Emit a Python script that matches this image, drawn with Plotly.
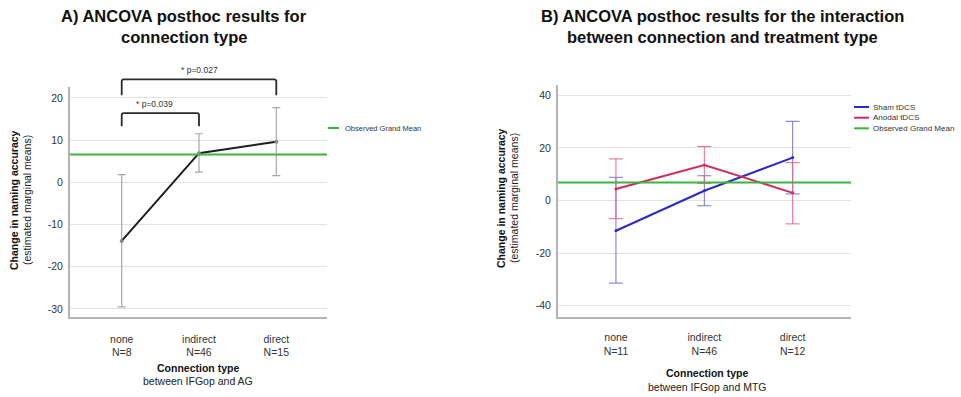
import plotly.graph_objects as go

# ---------------- data ----------------
# Panel A
cats_a = ["none", "indirect", "direct"]
n_a = [8, 46, 15]
mean_a = [-13.9, 6.9, 9.6]
upper_a = [1.8, 11.5, 17.7]
lower_a = [-29.5, 2.4, 1.6]
grand_mean_a = 6.6
yticks_a = [-30, -20, -10, 0, 10, 20]
# significance brackets: (from, to, label, bracket top, bracket end, text y, text x)
brackets_a = [
    ("none", "indirect", "* p=0.039", 16.4, 13.3, 18.6, 0.42),
    ("none", "direct", "* p=0.027", 24.4, 20.6, 26.6, 1.0),
]

# Panel B
cats_b = ["none", "indirect", "direct"]
n_b = [11, 46, 12]
sham_mean = [-11.5, 3.7, 16.3]
sham_upper = [8.8, 9.4, 30.1]
sham_lower = [-31.4, -2.0, 2.5]
anodal_mean = [4.4, 13.5, 2.9]
anodal_upper = [15.8, 20.5, 14.4]
anodal_lower = [-6.9, 6.5, -8.9]
grand_mean_b = 6.8
yticks_b = [-40, -20, 0, 20, 40]

FONT = "Liberation Sans, Arial, sans-serif"
W, H = 961, 397

# layout geometry (paper fractions)
xdom_a = [70 / W, 327 / W]
ydom_a = [80 / H, 310 / H]
xr_a = [-0.669, 2.656]
yr_a = [-31.92, 22.58]

xdom_b = [558 / W, 851 / W]
ydom_b = [80.3 / H, 312 / H]
xr_b = [-0.656, 2.66]
yr_b = [-44.18, 43.9]

GREEN = "#3cb43c"
BLUE = "#2a2ac8"
RED = "#d42a5c"

def px_x(i, dom, rng):
    return dom[0] + (i - rng[0]) / (rng[1] - rng[0]) * (dom[1] - dom[0])

def px_y(v, dom, rng):
    return dom[0] + (v - rng[0]) / (rng[1] - rng[0]) * (dom[1] - dom[0])

fig = go.Figure()

# Panel A line
fig.add_trace(go.Scatter(
    x=cats_a, y=mean_a, mode="lines+markers",
    line=dict(color="#1e1e1e", width=2),
    marker=dict(color="#888888", size=4),
    error_y=dict(type="data", symmetric=False,
                 array=[u - m for u, m in zip(upper_a, mean_a)],
                 arrayminus=[m - l for m, l in zip(mean_a, lower_a)],
                 color="#a8a8a8", thickness=1.2, width=4),
    xaxis="x", yaxis="y", showlegend=False,
))

# Panel B lines
fig.add_trace(go.Scatter(
    x=cats_b, y=sham_mean, mode="lines+markers", name="Sham tDCS",
    line=dict(color=BLUE, width=2),
    marker=dict(color=BLUE, size=3),
    error_y=dict(type="data", symmetric=False,
                 array=[u - m for u, m in zip(sham_upper, sham_mean)],
                 arrayminus=[m - l for m, l in zip(sham_mean, sham_lower)],
                 color="#7474d0", thickness=1, width=7),
    xaxis="x2", yaxis="y2", showlegend=False,
))
fig.add_trace(go.Scatter(
    x=cats_b, y=anodal_mean, mode="lines+markers", name="Anodal tDCS",
    line=dict(color=RED, width=2),
    marker=dict(color=RED, size=3),
    error_y=dict(type="data", symmetric=False,
                 array=[u - m for u, m in zip(anodal_upper, anodal_mean)],
                 arrayminus=[m - l for m, l in zip(anodal_mean, anodal_lower)],
                 color="#e06a8c", thickness=1, width=7),
    xaxis="x2", yaxis="y2", showlegend=False,
))

shapes = []
annotations = []

# grand mean lines
shapes.append(dict(type="line", xref="x domain", yref="y", x0=0, x1=1,
                   y0=grand_mean_a, y1=grand_mean_a,
                   line=dict(color=GREEN, width=2)))
shapes.append(dict(type="line", xref="x2 domain", yref="y2", x0=0, x1=1,
                   y0=grand_mean_b, y1=grand_mean_b,
                   line=dict(color=GREEN, width=2)))

# brackets
for c0, c1, label, top, end, ty, tx in brackets_a:
    x0 = px_x(cats_a.index(c0), xdom_a, xr_a)
    x1 = px_x(cats_a.index(c1), xdom_a, xr_a)
    yt = px_y(top, ydom_a, yr_a)
    ye = px_y(end, ydom_a, yr_a)
    r = 2 / H
    rx = 2 / W
    path = (f"M {x0},{ye} L {x0},{yt - r} Q {x0},{yt} {x0 + rx},{yt} "
            f"L {x1 - rx},{yt} Q {x1},{yt} {x1},{yt - r} L {x1},{ye}")
    shapes.append(dict(type="path", xref="paper", yref="paper", path=path,
                       line=dict(color="#2a2a2a", width=1.8)))
    annotations.append(dict(text=label, xref="paper", yref="paper",
                            x=px_x(tx, xdom_a, xr_a), y=px_y(ty, ydom_a, yr_a),
                            showarrow=False, xanchor="center", yanchor="middle",
                            font=dict(family=FONT, size=8.5, color="#333")))

# legends (custom)
def legend_item(x_line0, x_line1, x_text, y, color, text, size=8):
    shapes.append(dict(type="line", xref="paper", yref="paper",
                       x0=x_line0 / W, x1=x_line1 / W, y0=1 - y / H, y1=1 - y / H,
                       line=dict(color=color, width=2)))
    annotations.append(dict(text=text, xref="paper", yref="paper",
                            x=x_text / W, y=1 - y / H, showarrow=False,
                            xanchor="left", yanchor="middle",
                            font=dict(family=FONT, size=size, color="#333")))

legend_item(328, 339, 343, 128, GREEN, "Observed Grand Mean", 7.5)
legend_item(854, 869, 871, 107, BLUE, "Sham tDCS")
legend_item(854, 869, 871, 117.7, RED, "Anodal tDCS")
legend_item(854, 869, 871, 128.3, GREEN, "Observed Grand Mean")

def text(x, y, s, size, bold=False, angle=0, yanchor="middle"):
    annotations.append(dict(text=f"<b>{s}</b>" if bold else s, xref="paper", yref="paper",
                            x=x / W, y=1 - y / H, showarrow=False, borderpad=0,
                            xanchor="center", yanchor=yanchor, textangle=angle,
                            font=dict(family=FONT, size=size, color="#111" if bold else "#222")))

# titles
text(184, 26.5, "A) ANCOVA posthoc results for", 16.5, True, yanchor="bottom")
text(184, 26.5, "connection type", 16.5, True, yanchor="top")
text(722, 26.5, "B) ANCOVA posthoc results for the interaction", 16.5, True, yanchor="bottom")
text(722, 26.5, "between connection and treatment type", 16.5, True, yanchor="top")

# axis titles
text(14, 200, "Change in naming accuracy", 10.5, True, -90)
text(27, 200, "(estimated marginal means)", 10.5, False, -90)
text(198, 368, "Connection type", 10.5, True)
text(198, 381, "between IFGop and AG", 10.5, False)

text(501, 198, "Change in naming accuracy", 10.5, True, -90)
text(514, 198, "(estimated marginal means)", 10.5, False, -90)
text(707, 373, "Connection type", 10.5, True)
text(707, 387, "between IFGop and MTG", 10.5, False)

axis_common = dict(showline=True, linecolor="#b4b4b4", linewidth=2, zeroline=False,
                   tickfont=dict(family=FONT, size=10.5, color="#333"))

fig.update_layout(
    width=W, height=H, margin=dict(l=0, r=0, t=0, b=0),
    paper_bgcolor="white", plot_bgcolor="white",
    font=dict(family=FONT),
    xaxis=dict(domain=xdom_a, range=xr_a, type="category", categoryarray=cats_a,
               tickvals=cats_a, ticktext=[f"{c}<br>N={n}" for c, n in zip(cats_a, n_a)],
               showgrid=False, ticks="outside", ticklen=11, tickcolor="rgba(0,0,0,0)",
               anchor="y", **axis_common),
    yaxis=dict(domain=ydom_a, range=yr_a, tickvals=yticks_a,
               ticktext=[str(v) for v in yticks_a],
               showgrid=True, gridcolor="#e2e2e2",
               gridwidth=1, ticks="outside", ticklen=3, tickcolor="rgba(0,0,0,0)",
               anchor="x", **axis_common),
    xaxis2=dict(domain=xdom_b, range=xr_b, type="category", categoryarray=cats_b,
                tickvals=cats_b, ticktext=[f"{c}<br>N={n}" for c, n in zip(cats_b, n_b)],
                showgrid=False, ticks="outside", ticklen=10, tickcolor="rgba(0,0,0,0)",
                anchor="y2", **axis_common),
    yaxis2=dict(domain=ydom_b, range=yr_b, tickvals=yticks_b,
                ticktext=[str(v) for v in yticks_b],
                showgrid=True, gridcolor="#e2e2e2",
                gridwidth=1, ticks="outside", ticklen=3, tickcolor="rgba(0,0,0,0)",
                anchor="x2", **axis_common),
    shapes=shapes, annotations=annotations,
)

fig.write_html("out.html", config={"displayModeBar": False},
               post_script="document.body.style.margin='0';document.body.style.overflow='hidden';")
